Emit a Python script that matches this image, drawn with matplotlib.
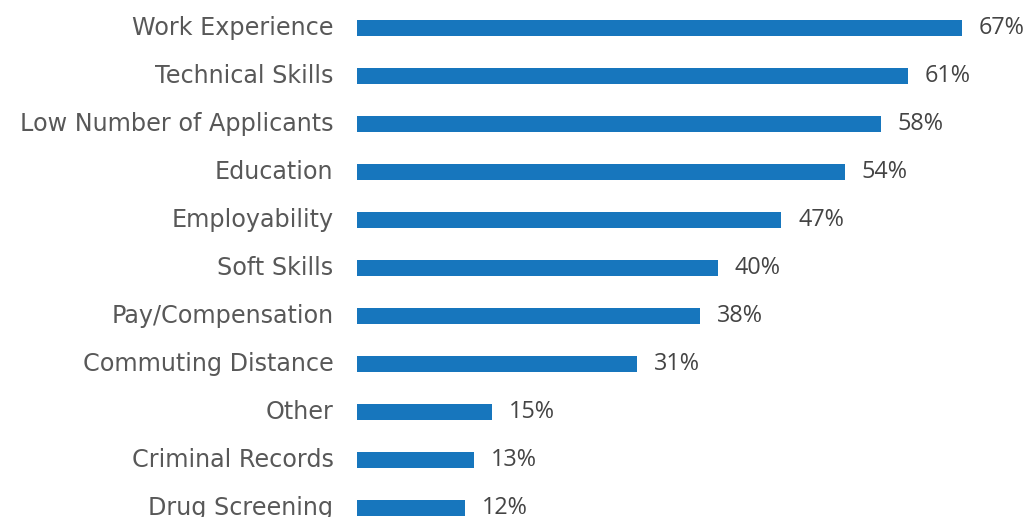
import matplotlib.pyplot as plt

labels = ["Work Experience", "Technical Skills", "Low Number of Applicants",
          "Education", "Employability", "Soft Skills", "Pay/Compensation",
          "Commuting Distance", "Other", "Criminal Records", "Drug Screening"]
values = [67, 61, 58, 54, 47, 40, 38, 31, 15, 13, 12]

W, H = 1026, 517
fig = plt.figure(figsize=(W / 100, H / 100), dpi=100)
# axes placed in pixel terms: left edge of bars at x=357
ax = fig.add_axes([357 / W, 0, 1 - 357 / W, 1])

pos = list(range(len(labels)))
ax.barh(pos, values, height=0.33, color='#1776bd')
ax.set_xlim(0, 669 / 9.03)
ax.set_ylim((517 - 28) / 48, -28 / 48)

ax.set_yticks(pos)
ax.set_yticklabels(labels, fontsize=17.2, color='#585858', family='DejaVu Sans')
for lbl in ax.get_yticklabels():
    lbl.set_verticalalignment('center')
ax.tick_params(axis='y', length=0, pad=17)
ax.set_xticks([])
for s in ax.spines.values():
    s.set_visible(False)

for p, v in zip(pos, values):
    ax.annotate("{}%".format(v), (v, p), xytext=(12, 0), textcoords='offset points',
                va='center', ha='left', fontsize=16.8, color='#444444',
                family='Open Sans', annotation_clip=False)

fig.savefig('out.png', dpi=100)
